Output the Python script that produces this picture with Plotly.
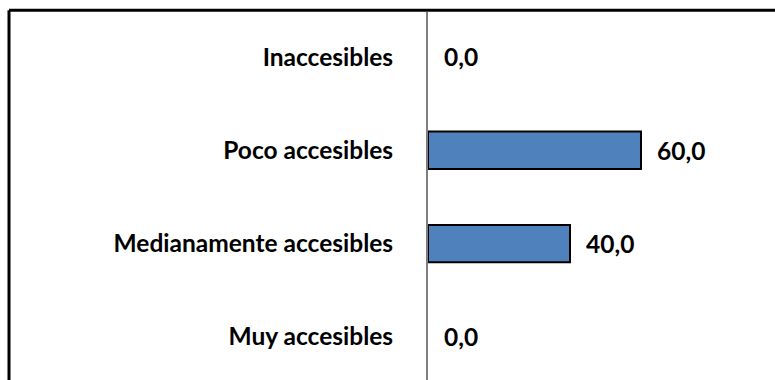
import plotly.graph_objects as go

# Accessibility ratings (percent), listed bottom to top
categories = ["Muy accesibles", "Medianamente accesibles", "Poco accesibles", "Inaccesibles"]
values = [0.0, 40.0, 60.0, 0.0]

value_labels = [f"{v:.1f}".replace(".", ",") for v in values]

FONT = "Lato, 'Open Sans', sans-serif"
SIZE = 24.5

fig = go.Figure(
    go.Bar(
        x=values,
        y=categories,
        orientation="h",
        width=0.4,
        marker=dict(
            color="#4F81BD",
            line=dict(color="#000000", width=[0 if v == 0 else 2 for v in values]),
        ),
        hoverinfo="skip",
    )
)

for cat, v, lab in zip(categories, values, value_labels):
    fig.add_annotation(
        x=v, y=cat, text=lab, showarrow=False,
        xanchor="left", yanchor="middle", xshift=14,
        font=dict(family=FONT, size=SIZE, color="#000000", weight="bold"),
    )

plot_left = 428
plot_width = 775 - plot_left

# Outer chart frame (left and top edges)
frame_x = (9 - plot_left) / plot_width
fig.add_shape(type="line", xref="paper", yref="paper",
              x0=frame_x, x1=1.2, y0=1.005, y1=1.005,
              line=dict(color="#000000", width=3))
fig.add_shape(type="line", xref="paper", yref="paper",
              x0=frame_x, x1=frame_x, y0=-0.2, y1=1.005,
              line=dict(color="#000000", width=3))

fig.update_layout(
    width=775, height=380,
    margin=dict(l=plot_left, r=0, t=12, b=0),
    paper_bgcolor="white", plot_bgcolor="white",
    showlegend=False,
    xaxis=dict(range=[0, plot_width / 3.55], visible=False, fixedrange=True),
    yaxis=dict(
        type="category",
        categoryorder="array", categoryarray=categories,
        range=[-0.462, 3.482],
        showline=True, linecolor="#7F7F7F", linewidth=2,
        showgrid=False, zeroline=False,
        ticks="", ticklabelstandoff=28,
        tickfont=dict(family=FONT, size=SIZE, color="#000000", weight="bold"),
        fixedrange=True,
    ),
)

fig.write_html("out.html")
